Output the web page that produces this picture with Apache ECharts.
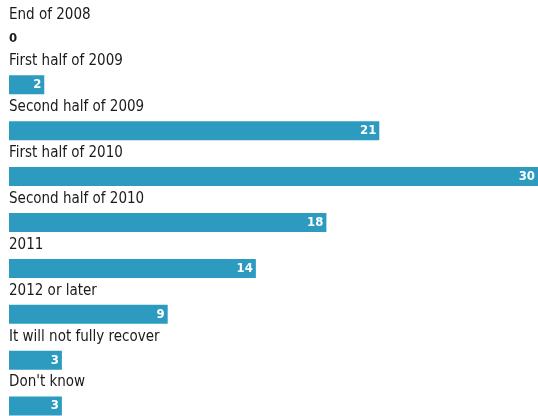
<!DOCTYPE html>
<html><head><meta charset="utf-8">
<script src="https://cdn.jsdelivr.net/npm/echarts@6/dist/echarts.min.js"></script>
<style>html,body{margin:0;padding:0;background:#fff}#c{width:538px;height:416px}</style>
</head><body><div id="c"></div>
<script>
const categories = ["End of 2008","First half of 2009","Second half of 2009","First half of 2010","Second half of 2010","2011","2012 or later","It will not fully recover","Don't know"];
const values = [0,2,21,30,18,14,9,3,3];

const FONT = '"Liberation Sans Narrow","DejaVu Sans Condensed","Roboto",sans-serif';
const chart = echarts.init(document.getElementById('c'));
chart.setOption({
  animation:false,
  grid:{left:9,right:0,top:16,height:413,containLabel:false,outerBoundsMode:'none'},
  xAxis:{type:'value',min:0,max:30,show:false},
  yAxis:{type:'category',data:categories,inverse:true,show:false},
  series:[
    {type:'bar',barWidth:19,barGap:'-100%',silent:true,
     itemStyle:{color:'#2c9bbf'},
     data:values.map(v=>({value:v,label: v===0
       ? {show:true,position:'insideLeft',distance:0,color:'#1a1a1a',fontWeight:'bold',fontSize:13,fontFamily:FONT,formatter:'{c}'}
       : {show:true,position:'insideRight',distance:3,color:'#fff',fontWeight:'bold',fontSize:13,fontFamily:FONT,formatter:'{c}'}}))
    },
    {type:'bar',barWidth:19,barGap:'-100%',silent:true,
     itemStyle:{color:'rgba(0,0,0,0)'},
     data:values.map(()=>0),
     label:{show:true,position:[0,-14],align:'left',verticalAlign:'middle',color:'#1a1a1a',fontSize:15,fontFamily:FONT,
       formatter:p=>categories[p.dataIndex]}
    }
  ]
});
</script></body></html>
